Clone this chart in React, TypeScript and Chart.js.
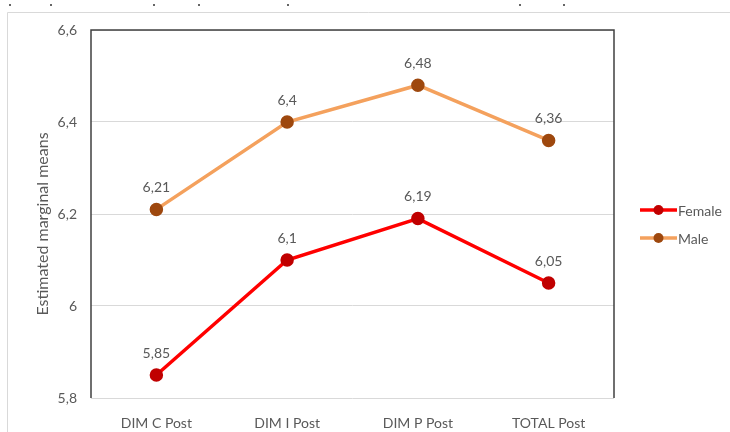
import React, { useEffect, useRef } from "react";
import { Chart, registerables } from "chart.js";

Chart.register(...registerables);

const categories = ["DIM C Post", "DIM I Post", "DIM P Post", "TOTAL Post"];
const femaleValues = [5.85, 6.1, 6.19, 6.05];
const maleValues = [6.21, 6.4, 6.48, 6.36];
const seriesNames = ["Female", "Male"];
const yTitle = "Estimated marginal means";

const FONT = "Lato, 'Open Sans', sans-serif";
const GRAY_TEXT = "#595959";
const fmt = (v: number) => String(v).replace(".", ",");

export default function App() {
  const ref = useRef<HTMLCanvasElement | null>(null);
  useEffect(() => {
    if (!ref.current) return;
    const overlay = {
      id: "overlay",
      beforeDraw(chart: any) {
        const ctx = chart.ctx;
        ctx.save();
        ctx.fillStyle = "#ffffff";
        ctx.fillRect(0, 0, chart.width, chart.height);
        ctx.strokeStyle = "#d9d9d9";
        ctx.lineWidth = 1;
        ctx.beginPath();
        ctx.moveTo(7.5, 432);
        ctx.lineTo(7.5, 12.5);
        ctx.lineTo(730, 12.5);
        ctx.stroke();
        ctx.fillStyle = "#666";
        [9, 50, 153, 198, 287, 519, 563].forEach((x) => ctx.fillRect(x, 4, 2, 2));
        ctx.restore();
      },
      afterDraw(chart: any) {
        const ctx = chart.ctx;
        const a = chart.chartArea;
        ctx.save();
        ctx.strokeStyle = "#404040";
        ctx.lineWidth = 1.5;
        ctx.beginPath();
        ctx.moveTo(a.left, a.bottom);
        ctx.lineTo(a.left, a.top);
        ctx.lineTo(a.right, a.top);
        ctx.lineTo(a.right, a.bottom);
        ctx.stroke();
        ctx.font = `14px ${FONT}`;
        ctx.fillStyle = GRAY_TEXT;
        ctx.textAlign = "center";
        ctx.textBaseline = "middle";
        chart.data.datasets.forEach((ds: any, i: number) => {
          const meta = chart.getDatasetMeta(i);
          meta.data.forEach((pt: any, j: number) => {
            ctx.fillText(fmt(ds.data[j]), pt.x, pt.y - 22);
          });
        });
        ctx.save();
        ctx.translate(43, (a.top + a.bottom) / 2 + 10);
        ctx.rotate(-Math.PI / 2);
        ctx.font = `16px ${FONT}`;
        ctx.fillText(yTitle, 0, 0);
        ctx.restore();
        const items = chart.data.datasets;
        items.forEach((ds: any, i: number) => {
          const y = 210 + i * 28;
          ctx.strokeStyle = ds.borderColor;
          ctx.lineWidth = 3.5;
          ctx.beginPath();
          ctx.moveTo(640, y);
          ctx.lineTo(677, y);
          ctx.stroke();
          ctx.fillStyle = ds.pointBackgroundColor;
          ctx.beginPath();
          ctx.arc(658.5, y, 5, 0, Math.PI * 2);
          ctx.fill();
          ctx.fillStyle = GRAY_TEXT;
          ctx.textAlign = "left";
          ctx.font = `14px ${FONT}`;
          ctx.fillText(ds.label, 678, y + 1);
        });
        ctx.restore();
      },
    };
    const chart = new Chart(ref.current, {
      type: "line",
      data: {
        labels: categories,
        datasets: [
          {
            label: seriesNames[0],
            data: femaleValues,
            borderColor: "#FF0000",
            backgroundColor: "#C00000",
            pointBackgroundColor: "#C00000",
            pointBorderColor: "#C00000",
            borderWidth: 3.5,
            pointRadius: 5,
            tension: 0,
          },
          {
            label: seriesNames[1],
            data: maleValues,
            borderColor: "#F4A15D",
            backgroundColor: "#9E480E",
            pointBackgroundColor: "#9E480E",
            pointBorderColor: "#9E480E",
            borderWidth: 3.5,
            pointRadius: 5,
            tension: 0,
          },
        ],
      },
      options: {
        animation: false,
        responsive: false,
        events: [],
        layout: { padding: { left: 0, top: 30, right: 116, bottom: 0 } },
        plugins: { legend: { display: false }, tooltip: { enabled: false } },
        scales: {
          x: {
            offset: true,
            grid: { display: false },
            border: { display: false },
            ticks: { color: GRAY_TEXT, font: { family: FONT, size: 14 }, padding: 9 },
            afterFit: (s: any) => {
              s.height = 34;
            },
          },
          y: {
            min: 5.8,
            max: 6.6,
            ticks: {
              stepSize: 0.2,
              color: GRAY_TEXT,
              font: { family: FONT, size: 14 },
              padding: 14,
              callback: (v: any) => fmt(Math.round(Number(v) * 10) / 10),
            },
            grid: { color: "#d9d9d9", lineWidth: 1, drawTicks: false },
            border: { display: false },
            afterFit: (s: any) => {
              s.width = 91;
            },
          },
        },
      },
      plugins: [overlay],
    });
    return () => chart.destroy();
  }, []);
  return (
    <div style={{ position: "fixed", left: 0, top: 0, width: 730, height: 432 }}>
      <canvas ref={ref} width={730} height={432} style={{ width: 730, height: 432 }} />
    </div>
  );
}
